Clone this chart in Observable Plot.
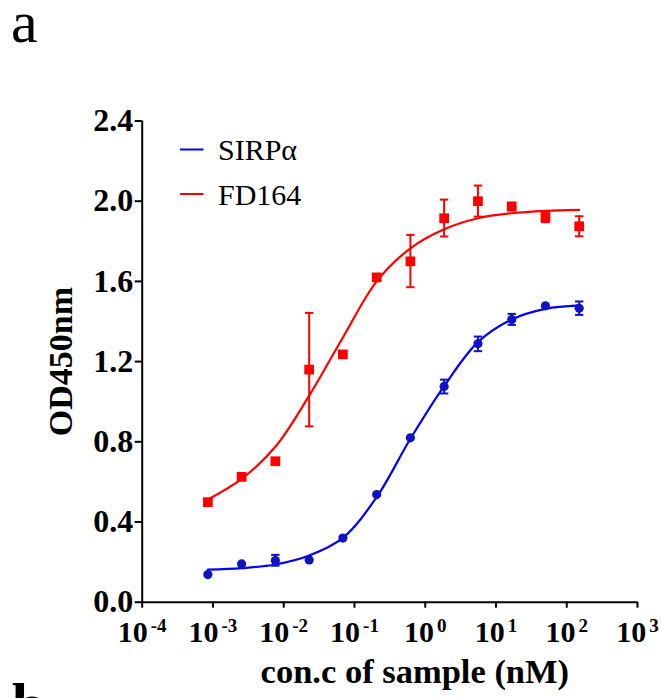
<!DOCTYPE html>
<html>
<head>
<meta charset="utf-8">
<script src="https://cdn.jsdelivr.net/npm/d3@7"></script>
<script src="https://cdn.jsdelivr.net/npm/@observablehq/plot@0.6"></script>
<style>
  html, body { margin: 0; padding: 0; background: white; overflow: hidden; }
</style>
</head>
<body>
<div id="chart"></div>
<script>
// ---- data ----
const conc = [0.000847, 0.00254, 0.00762, 0.0229, 0.0686, 0.206, 0.617, 1.85, 5.56, 16.7, 50, 150]; // nM
const seriesNames = ["SIRPα", "FD164"];

const sirpMean = [0.138, 0.191, 0.208, 0.211, 0.320, 0.537, 0.820, 1.076, 1.289, 1.410, 1.478, 1.466];
const sirpLow  = [null, null, 0.182, null, null, null, null, 1.041, 1.252, 1.383, null, 1.433];
const sirpHigh = [null, null, 0.236, null, null, null, null, 1.110, 1.325, 1.438, null, 1.500];
const sirpFit  = [0.162, 0.170, 0.188, 0.233, 0.321, 0.524, 0.815, 1.078, 1.297, 1.410, 1.463, 1.480];

const fdMean = [0.499, 0.625, 0.703, 1.160, 1.236, 1.620, 1.700, 1.915, 2.000, 1.973, 1.920, 1.875];
const fdLow  = [null, null, null, 0.877, null, null, 1.571, 1.824, 1.923, 1.955, 1.895, 1.825];
const fdHigh = [null, null, null, 1.443, null, null, 1.832, 2.008, 2.078, 1.993, 1.945, 1.925];
const fdFit  = [0.512, 0.615, 0.775, 1.030, 1.320, 1.600, 1.765, 1.860, 1.915, 1.940, 1.952, 1.957];

const xTicks = [1e-4, 1e-3, 1e-2, 1e-1, 1e0, 1e1, 1e2, 1e3];
const yTicks = [0, 0.4, 0.8, 1.2, 1.6, 2.0, 2.4];

// ---- tables ----
const rows = (mean, low, high, fit) => conc.map((c, i) => ({conc: c, mean: mean[i], low: low[i], high: high[i], fit: fit[i]}));
const sirp = rows(sirpMean, sirpLow, sirpHigh, sirpFit);
const fd = rows(fdMean, fdLow, fdHigh, fdFit);
const sirpErr = sirp.filter(d => d.low != null);
const fdErr = fd.filter(d => d.low != null);

const RED = "#ff0000";
const BLUE_LINE = "#0000ff";
const BLUE_MARK = "#1010c4";
const FONT = "'Liberation Serif', 'Times New Roman', serif";

// horizontal cap symbol for error bars
const capSymbol = {
  draw(ctx, size) {
    const r = Math.sqrt(size / Math.PI);
    ctx.moveTo(-r, 0);
    ctx.lineTo(r, 0);
  }
};

const errMarks = (data, color) => [
  Plot.ruleX(data, {x: "conc", y1: "low", y2: "high", stroke: color, strokeWidth: 2}),
  Plot.dot(data, {x: "conc", y: "low", symbol: capSymbol, r: 4.2, stroke: color, strokeWidth: 2, fill: "none"}),
  Plot.dot(data, {x: "conc", y: "high", symbol: capSymbol, r: 4.2, stroke: color, strokeWidth: 2, fill: "none"})
];

const chart = Plot.plot({
  width: 661,
  height: 698,
  marginLeft: 141.7,
  marginRight: 24,
  marginTop: 120.5,
  marginBottom: 96.3,
  style: {fontFamily: FONT, color: "black", background: "white", overflow: "visible"},
  x: {type: "log", domain: [1e-4, 1e3]},
  y: {domain: [0, 2.4]},
  marks: [
    Plot.axisY(yTicks, {tickSize: 7, tickPadding: 2, strokeWidth: 2, tickFormat: d => d.toFixed(1), fontSize: 32, fontWeight: "bold", label: null}),
    Plot.axisX(xTicks, {tickSize: 6, tickPadding: 12, strokeWidth: 2, tickFormat: d => "10^" + Math.round(Math.log10(d)), fontSize: 30, fontWeight: "bold", label: null}),
    Plot.ruleX([1e-4], {stroke: "black", strokeWidth: 2}),
    Plot.ruleY([0], {stroke: "black", strokeWidth: 2}),
    Plot.text(["OD450nm"], {frameAnchor: "left", textAnchor: "middle", lineAnchor: "middle", rotate: -90, dx: -81, fontSize: 34, fontWeight: "bold", fill: "black"}),
    Plot.text(["con.c of sample (nM)"], {frameAnchor: "bottom", textAnchor: "middle", lineAnchor: "middle", dx: 25, dy: 70, fontSize: 34.5, fontWeight: "bold", fill: "black"}),
    Plot.line(sirp, {x: "conc", y: "fit", stroke: BLUE_LINE, strokeWidth: 2.2, curve: "catmull-rom"}),
    Plot.line(fd, {x: "conc", y: "fit", stroke: RED, strokeWidth: 2.2, curve: "catmull-rom"}),
    ...errMarks(sirpErr, BLUE_MARK),
    ...errMarks(fdErr, RED),
    Plot.dot(sirp, {x: "conc", y: "mean", r: 4.6, fill: BLUE_MARK, stroke: "none"}),
    Plot.dot(fd, {x: "conc", y: "mean", symbol: "square", r: 5.5, fill: RED, stroke: "none"})
  ]
});

document.getElementById("chart").appendChild(chart);

// superscript exponents on the x tick labels
d3.select(chart).selectAll('g[aria-label="x-axis tick label"] text').each(function() {
  const t = d3.select(this);
  const s = t.text();
  const parts = s.split("^");
  if (parts.length !== 2) return;
  t.text(null);
  t.append("tspan").text(parts[0]);
  t.append("tspan").attr("dx", 3).attr("dy", -10).attr("font-size", 19).text(parts[1]);
});

// legend (pixel layout inside the frame)
const svg = d3.select(chart);
const legend = svg.append("g").attr("font-family", FONT).attr("text-anchor", "start");
const legendItems = [
  {name: seriesNames[0], color: BLUE_LINE, y: 149.5},
  {name: seriesNames[1], color: RED, y: 194}
];
legendItems.forEach(it => {
  legend.append("line").attr("x1", 180).attr("x2", 203.5).attr("y1", it.y).attr("y2", it.y)
    .attr("stroke", it.color).attr("stroke-width", 2);
  legend.append("text").attr("x", 218).attr("y", it.y + 10.5).attr("font-size", 30)
    .attr("text-anchor", "start").attr("fill", "black").text(it.name);
});

// panel letters
svg.append("text").attr("x", 11).attr("y", 42).attr("font-size", 60).attr("text-anchor", "start")
  .attr("font-family", FONT).attr("fill", "black").text("a");
// next panel's letter, cut by the lower edge as in the reference
svg.append("defs").append("clipPath").attr("id", "bottomclip")
  .append("rect").attr("x", 0).attr("y", 0).attr("width", 661).attr("height", 698);
svg.append("text").attr("x", 12).attr("y", 724).attr("font-size", 60).attr("font-weight", "bold")
  .attr("text-anchor", "start").attr("clip-path", "url(#bottomclip)")
  .attr("font-family", FONT).attr("fill", "black").text("b");
</script>
</body>
</html>
